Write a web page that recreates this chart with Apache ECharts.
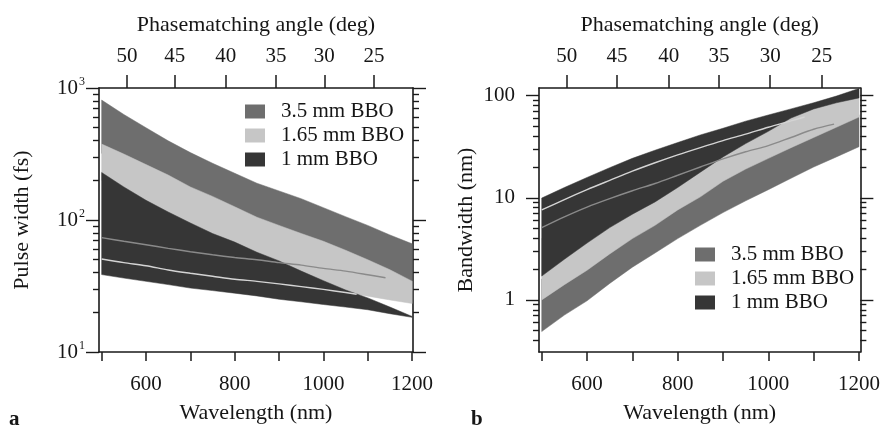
<!DOCTYPE html>
<html>
<head>
<meta charset="utf-8">
<script src="https://cdn.jsdelivr.net/npm/echarts@6/dist/echarts.min.js"></script>
<style>
html,body{margin:0;padding:0;background:#fff;}
#c{width:883px;height:429px;}
</style>
</head>
<body>
<div id="c"></div>
<script>
// ---------- data ----------
const wl = [500,550,600,650,700,750,800,850,900,950,1000,1050,1100,1150,1200];

// Panel a: pulse width (fs)
const a35Hi  = [810,630,500,398,324,269,226,190,166,145,124,106,91,77,66];
const a35Lo  = [320,270,226,186,152,128,107,90,78,68,59,51,43,36,29];
const a165Hi = [376,316,263,219,178,151,126,105,91,79,69,59,50,42,34.4];
const a165Lo = [200,155,123,100,83,69,59,50,43,37,31,28.5,26.5,24.8,23.3];
const a1Hi   = [229,178,141,115,95,79,68,57,49,41,34.7,29.5,25.7,21.9,18.6];
const a1Lo   = [38.6,36.3,34.3,32.4,30.5,29.2,27.9,26.6,25.1,24.0,22.9,21.9,20.9,19.5,18.3];
const aGrayWl  = [500,550,600,650,700,750,800,850,900,950,1000,1050,1100,1140];
const aGrayVal = [73.6,69,65,61,57.5,54.5,52,50,47.5,45.5,43,41,38.5,36.5];
const aWhiteWl  = [500,550,600,650,700,750,800,850,900,950,1000,1050,1075];
const aWhiteVal = [50.6,47.5,45,41.8,39.5,37.5,35.6,34.3,32.8,31.3,29.8,28.2,27.4];

// Panel b: bandwidth (nm)
const b1Hi   = [9.93,12.6,15.8,19.7,24.3,29.2,34.7,41.2,47.9,56.2,64.6,74.1,85.1,98.9,117.5];
const b1Lo   = [1.71,2.5,3.6,5.1,6.9,9.1,12.6,17.8,25.1,33.9,44.7,60.3,74,85,95];
const b165Hi = [4,5.5,7.5,10,13,16,21,27,35,44,54,67,80,92,100];
const b165Lo = [1.0,1.41,1.95,2.82,3.98,5.37,7.6,10.2,14.5,19.1,24.3,30.9,38.9,49,61.7];
const b35Hi  = [1.6,2.2,3.0,4.2,5.8,7.6,10.2,13.5,18.5,24,30,38,47,57,65];
const b35Lo  = [0.49,0.71,0.98,1.45,2.09,2.88,3.98,5.37,7.16,9.33,12.0,15.5,20,25.1,31.6];
const bWhiteWl  = [500,550,600,650,700,750,800,850,900,950,1000,1050,1080];
const bWhiteVal = [7.6,9.6,12.0,14.8,18.2,22,26.3,31,36.3,42,49,56.5,61.7];
const bGrayWl  = [500,550,600,650,700,750,800,850,900,950,1000,1050,1100,1145];
const bGrayVal = [5.1,6.5,8.1,9.8,11.7,13.8,16.6,20,24,28.2,32.4,38.9,46.8,52.5];

// ticks
const xTicks = [500,600,700,800,900,1000,1100,1200];
const xLabels = [600,800,1000,1200];
const angleLabels = [50,45,40,35,30,25];
const aAngleWl = [557,665,780,893,1002,1114];
const bAngleWl = [555,666,780,891,1004,1118];
const aYMajor = [10,100,1000];
const aYMinor = [20,30,40,50,60,70,80,90,200,300,400,500,600,700,800,900];
const bYMajor = [1,10,100];
const bYMinor = [0.4,0.5,0.6,0.7,0.8,0.9,2,3,4,5,6,7,8,9,20,30,40,50,60,70,80,90];

const names = ['3.5 mm BBO','1.65 mm BBO','1 mm BBO'];
const bandColors = ['#6e6e6e','#c6c6c6','#363636'];

// ---------- styles ----------
const FONT = 'Liberation Serif';
const TXT = '#161616';
const AX = '#1a1a1a';

function bandSeries(name, color, hi, lo, xi, yi) {
  return {
    type: 'custom', name: name, xAxisIndex: xi, yAxisIndex: yi, silent: true,
    itemStyle: {color: color},
    data: wl.map((w, i) => [w, lo[i], hi[i]]),
    encode: {x: 0, y: [1, 2]},
    clip: true,
    renderItem: function (params, api) {
      if (params.dataIndex !== 0) return;
      const pts = [];
      for (let i = 0; i < wl.length; i++) pts.push(api.coord([wl[i], hi[i]]));
      for (let i = wl.length - 1; i >= 0; i--) pts.push(api.coord([wl[i], lo[i]]));
      return {type: 'polygon', shape: {points: pts}, style: {fill: color, stroke: color, lineWidth: 0.5}};
    }
  };
}
function lineSeries(xs, ys, color, xi, yi) {
  return {
    type: 'line', xAxisIndex: xi, yAxisIndex: yi, silent: true,
    showSymbol: false, symbol: 'none', smooth: 0.3,
    data: xs.map((x, i) => [x, ys[i]]),
    lineStyle: {color: color, width: 1.4},
    z: 3
  };
}
function bottomX(grid, max) {
  return {
    gridIndex: grid, type: 'value', position: 'bottom', min: 494, max: max,
    splitLine: {show: false},
    axisLine: {show: true, lineStyle: {color: AX, width: 1.6}},
    axisTick: {show: true, customValues: xTicks, length: 9, lineStyle: {color: AX, width: 1.5}},
    axisLabel: {customValues: xLabels, margin: 22, fontSize: 21, fontFamily: FONT, color: TXT,
      formatter: function (v) { return String(v); }},
    name: 'Wavelength (nm)', nameLocation: 'middle', nameGap: 50,
    nameTextStyle: {fontSize: 22, fontFamily: FONT, color: TXT}
  };
}
function topX(grid, max, angWl) {
  return {
    gridIndex: grid, type: 'value', position: 'top', min: 494, max: max,
    splitLine: {show: false},
    axisLine: {show: true, lineStyle: {color: AX, width: 1.6}},
    axisTick: {show: true, customValues: angWl, length: 13, lineStyle: {color: AX, width: 1.5}},
    axisLabel: {customValues: angWl, margin: 21, fontSize: 21, fontFamily: FONT, color: TXT,
      formatter: function (v) { const k = angWl.indexOf(v); return k >= 0 ? String(angleLabels[k]) : ''; }},
    name: 'Phasematching angle (deg)', nameLocation: 'middle', nameGap: 52,
    nameTextStyle: {fontSize: 22, fontFamily: FONT, color: TXT}
  };
}
function yAx(grid, pos, min, max, ticks, len, showLine, label, name, nameGap) {
  const o = {
    gridIndex: grid, type: 'log', logBase: 10, position: pos, min: min, max: max,
    splitLine: {show: false}, minorTick: {show: false},
    axisLine: {show: showLine, lineStyle: {color: AX, width: 1.6}},
    axisTick: {show: true, customValues: ticks, length: len, lineStyle: {color: AX, width: 1.4}},
    axisLabel: label ? label : {show: false}
  };
  if (name) {
    o.name = name; o.nameLocation = 'middle'; o.nameGap = nameGap;
    o.nameTextStyle = {fontSize: 22, fontFamily: FONT, color: TXT};
  }
  return o;
}

const aLabel = {
  customValues: aYMajor, margin: 14, fontFamily: FONT, color: TXT,
  formatter: function (v) { return '{b|10}{s|' + Math.round(Math.log10(v)) + '}'; },
  rich: {b: {fontSize: 21, fontFamily: FONT, color: TXT}, s: {fontSize: 12, fontFamily: FONT, color: TXT, padding: [0, 0, 12, 1]}}
};
const bLabel = {customValues: bYMajor, margin: 24, fontSize: 21, fontFamily: FONT, color: TXT};

function legendFor(left, top) {
  return {
    orient: 'vertical', left: left, top: top, padding: 0,
    itemWidth: 20, itemHeight: 14, itemGap: 3, selectedMode: false,
    textStyle: {fontSize: 21, fontFamily: FONT, color: TXT, padding: [0, 0, 0, 11]},
    data: names.map((n, i) => ({name: n, icon: 'rect', itemStyle: {color: bandColors[i]}}))
  };
}

const option = {
  animation: false,
  backgroundColor: '#ffffff',
  grid: [
    {left: 99, top: 88, width: 314, height: 267},
    {left: 539, top: 88, width: 325, height: 267}
  ],
  xAxis: [
    bottomX(0, 1202), topX(0, 1202, aAngleWl),
    bottomX(1, 1203), topX(1, 1203, bAngleWl)
  ],
  yAxis: [
    yAx(0, 'left', 10, 1000, aYMajor, 13, true, aLabel, 'Pulse width (fs)', 66),
    yAx(0, 'left', 10, 1000, aYMinor, 6, false, null),
    yAx(0, 'right', 10, 1000, aYMajor, 13, true, null),
    yAx(0, 'right', 10, 1000, aYMinor, 6, false, null),
    yAx(1, 'left', 0.309, 118.7, bYMajor, 13, true, bLabel, 'Bandwidth (nm)', 62),
    yAx(1, 'left', 0.309, 118.7, bYMinor, 6, false, null),
    yAx(1, 'right', 0.309, 118.7, bYMajor, 13, true, null),
    yAx(1, 'right', 0.309, 118.7, bYMinor, 6, false, null)
  ],
  legend: [legendFor(245, 101), legendFor(695, 244)],
  series: [
    bandSeries(names[0], bandColors[0], a35Hi, a35Lo, 0, 0),
    bandSeries(names[1], bandColors[1], a165Hi, a165Lo, 0, 0),
    bandSeries(names[2], bandColors[2], a1Hi, a1Lo, 0, 0),
    lineSeries(aGrayWl, aGrayVal, '#8a8a8a', 0, 0),
    lineSeries(aWhiteWl, aWhiteVal, '#d4d4d4', 0, 0),
    bandSeries(names[0], bandColors[0], b35Hi, b35Lo, 2, 4),
    bandSeries(names[1], bandColors[1], b165Hi, b165Lo, 2, 4),
    bandSeries(names[2], bandColors[2], b1Hi, b1Lo, 2, 4),
    lineSeries(bGrayWl, bGrayVal, '#8a8a8a', 2, 4),
    lineSeries(bWhiteWl, bWhiteVal, '#d4d4d4', 2, 4)
  ],
  graphic: [
    {type: 'text', left: 9, top: 409, style: {text: 'a', font: 'bold 21px "Liberation Serif"', fill: TXT}},
    {type: 'text', left: 471, top: 409, style: {text: 'b', font: 'bold 21px "Liberation Serif"', fill: TXT}}
  ]
};

const chart = echarts.init(document.getElementById('c'), null, {renderer: 'canvas'});
chart.setOption(option);
</script>
</body>
</html>
